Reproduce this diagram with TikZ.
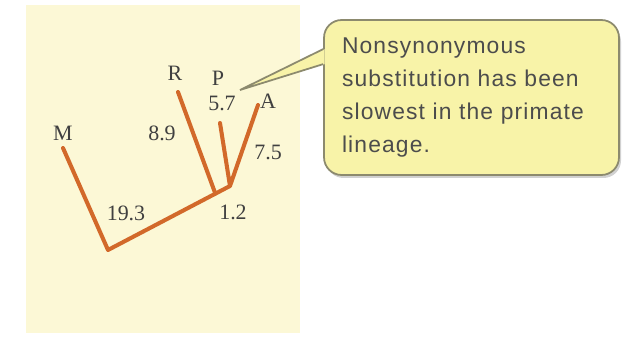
\documentclass[tikz,border=0pt]{standalone}
\usepackage{fontspec}
\setmainfont{Liberation Serif}
\newfontfamily\notefont[LetterSpace=5]{Liberation Sans}
\usetikzlibrary{calc}
\definecolor{tBranch}{HTML}{D2692A}
\definecolor{tPanel}{HTML}{FCF8D6}
\definecolor{tNote}{HTML}{F8F3A8}
\definecolor{tEdge}{HTML}{8C8A6E}

\begin{document}
\begin{tikzpicture}[x=0.02cm, y=-0.02cm,
    branch/.style={tBranch, line width=2.3pt, line cap=round, line join=round},
    lbl/.style={font=\fontsize{12.5}{13}\selectfont, text=black!75, inner sep=1pt}]
    \useasboundingbox (0,0) rectangle (628,340);
    \fill[tPanel] (26,5) rectangle (300,333);
    \coordinate (root) at (108,250);
    \coordinate (jPA) at (230,186);
    \coordinate (jR) at ($(root)!0.88!(jPA)$);
    \foreach \n/\p in {M/{63,148}, R/{178,92}, P/{220,123}, A/{258,105}}
      \coordinate (t\n) at (\p);
    \draw[branch] (tM) -- (root) -- (jPA);
    \draw[branch] (tR) -- (jR);
    \draw[branch] (tP) -- (jPA) -- (tA);
    \foreach \nm/\t/\p in {lM/M/{63,133}, lR/R/{175,73}, lP/P/{218,78}, lA/A/{268,101},
        lR9/8.9/{162,133}, lP7/5.7/{222,103}, lA5/7.5/{268,152},
        lRoot/19.3/{126,213}, lJ/1.2/{233,212}}
      \node[lbl] (\nm) at (\p) {\t};
    \fill[black!18, rounded corners=10pt] (326,24) rectangle (621,178);
    \node[draw=tEdge, fill=tNote, line width=1pt, rounded corners=10pt,
      minimum width=5.9cm, minimum height=3.1cm, text width=5.18cm, inner xsep=0.36cm,
      align=left, font=\notefont\fontsize{13}{18.7}\selectfont, text=black!70]
      (note) at (471.5,97.5) {Nonsynonymous\\ substitution has been\\ slowest in the primate\\ lineage.};
    \coordinate (pTip) at (240,90);
    \fill[tNote] ($(note.north west)+(1.5,30)$) -- (pTip) -- ($(note.north west)+(1.5,45)$) -- cycle;
    \draw[tEdge, line width=1pt] ($(note.north west)+(0,30)$) -- (pTip) -- ($(note.north west)+(0,45)$);
\end{tikzpicture}
\end{document}
